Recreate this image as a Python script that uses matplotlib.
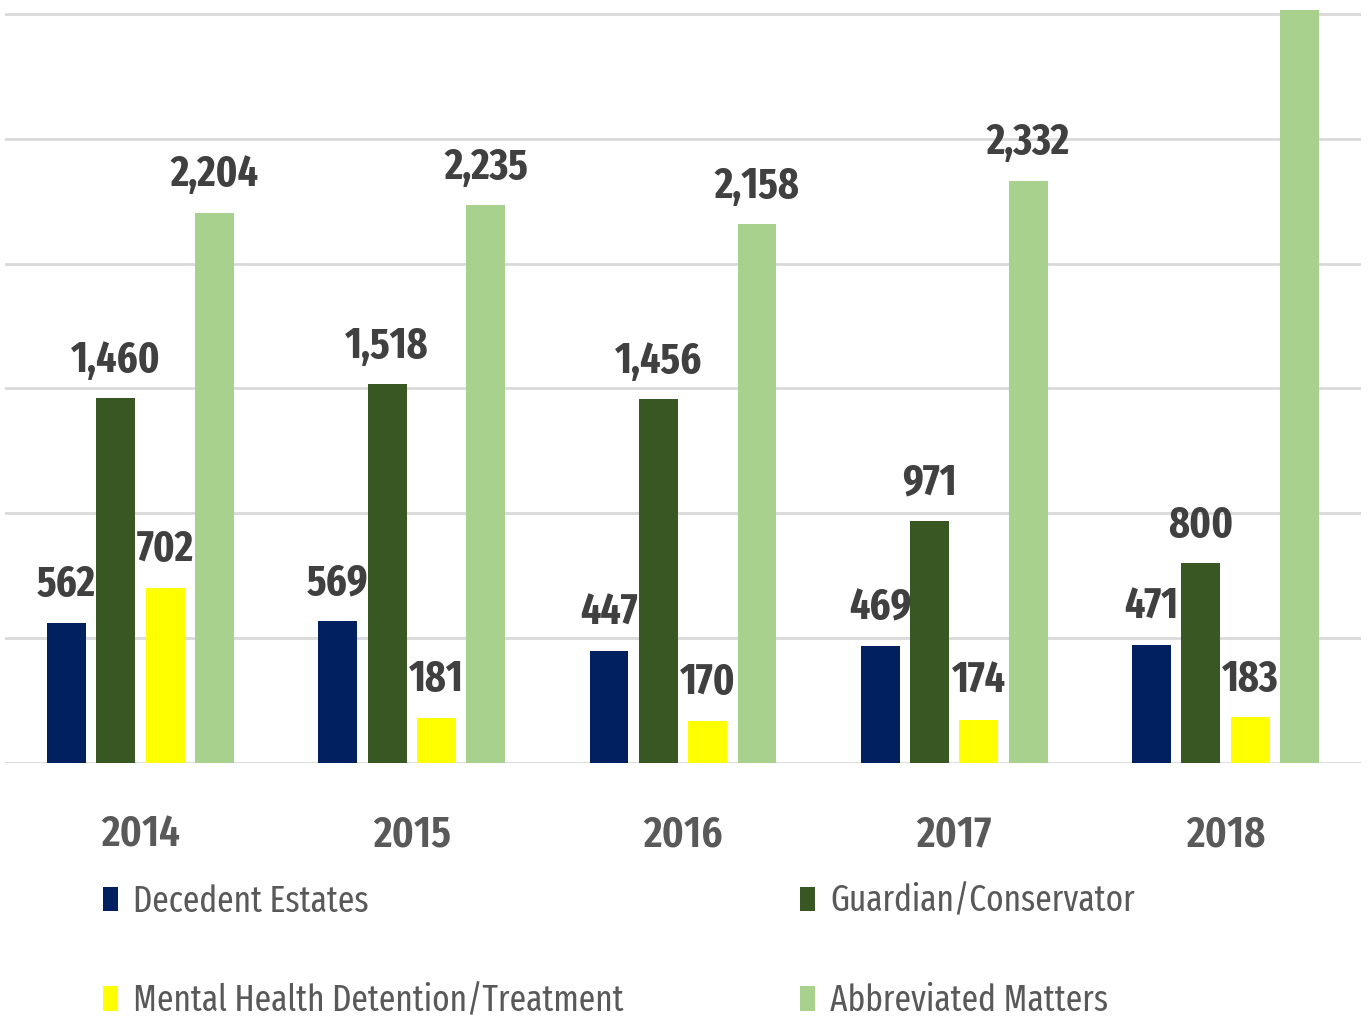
import matplotlib
matplotlib.use("Agg")
import matplotlib.pyplot as plt
from matplotlib import font_manager
import numpy as np

years = ["2014", "2015", "2016", "2017", "2018"]
series_names = ["Decedent Estates", "Guardian/Conservator",
                "Mental Health Detention/Treatment", "Abbreviated Matters"]
decedent = [562, 569, 447, 469, 471]
guardian = [1460, 1518, 1456, 971, 800]
mental = [702, 181, 170, 174, 183]
abbreviated = [2204, 2235, 2158, 2332, 3016]
abbrev_labels = ["2,204", "2,235", "2,158", "2,332", None]

colors = ["#002060", "#385723", "#FFFF00", "#A9D18E"]

avail = {f.name for f in font_manager.fontManager.ttflist}
fam = "DejaVu Sans"
for cand in ["Fira Sans Extra Condensed", "Fira Sans Condensed",
             "IBM Plex Sans Condensed", "Liberation Sans Narrow", "Roboto"]:
    if cand in avail:
        fam = cand
        break
plt.rcParams['font.family'] = [fam, 'DejaVu Sans']

W, H = 1372, 1019
fig = plt.figure(figsize=(W / 100, H / 100), dpi=100)
ax = fig.add_axes([5 / W, 1 - 763 / H, (1361 - 5) / W, (763 - 10) / H])

x = np.arange(len(years))
bw = 0.1435
pitch = 0.182
data = [decedent, guardian, mental, abbreviated]
bars = []
for i, (vals, c) in enumerate(zip(data, colors)):
    b = ax.bar(x + (i - 1.5) * pitch, vals, width=bw, color=c, zorder=3,
               label=series_names[i])
    bars.append(b)
    if i == 3:
        labels = [l if l is not None else "" for l in abbrev_labels]
    else:
        labels = [f"{v:,}" for v in vals]
    for rect, lab in zip(b, labels):
        if not lab:
            continue
        ax.annotate(lab, (rect.get_x() + rect.get_width() / 2, rect.get_height()),
                    xytext=(0, 19), textcoords="offset points",
                    ha="center", va="baseline", fontsize=31, fontweight=700,
                    color="#404040", zorder=4)

ax.set_xlim(-0.5, 4.5)
ax.set_ylim(0, 3016)
ax.set_yticks([0, 500, 1000, 1500, 2000, 2500, 3000])
ax.yaxis.grid(True, color="#D9D9D9", linewidth=2, zorder=0)
ax.tick_params(axis="y", left=False, labelleft=False)
ax.set_xticks(x)
ax.set_xticklabels(years)
ax.tick_params(axis="x", length=0, pad=36, labelsize=32, labelcolor="#595959")
for t in ax.get_xticklabels():
    t.set_fontweight(600)
for s in ax.spines.values():
    s.set_visible(False)

fs = 26
common = dict(loc="center left", frameon=False, fontsize=fs, labelcolor="#595959",
              handlelength=0.42, handleheight=0.66, handletextpad=0.42,
              labelspacing=1.77, borderaxespad=0, borderpad=0)
leg1 = fig.legend([bars[0], bars[2]], [series_names[0], series_names[2]],
                  bbox_to_anchor=(103 / W, 1 - 951 / H), **common)
leg2 = fig.legend([bars[1], bars[3]], [series_names[1], series_names[3]],
                  bbox_to_anchor=(800 / W, 1 - 951 / H), **common)

fig.savefig("out.png", dpi=100)
